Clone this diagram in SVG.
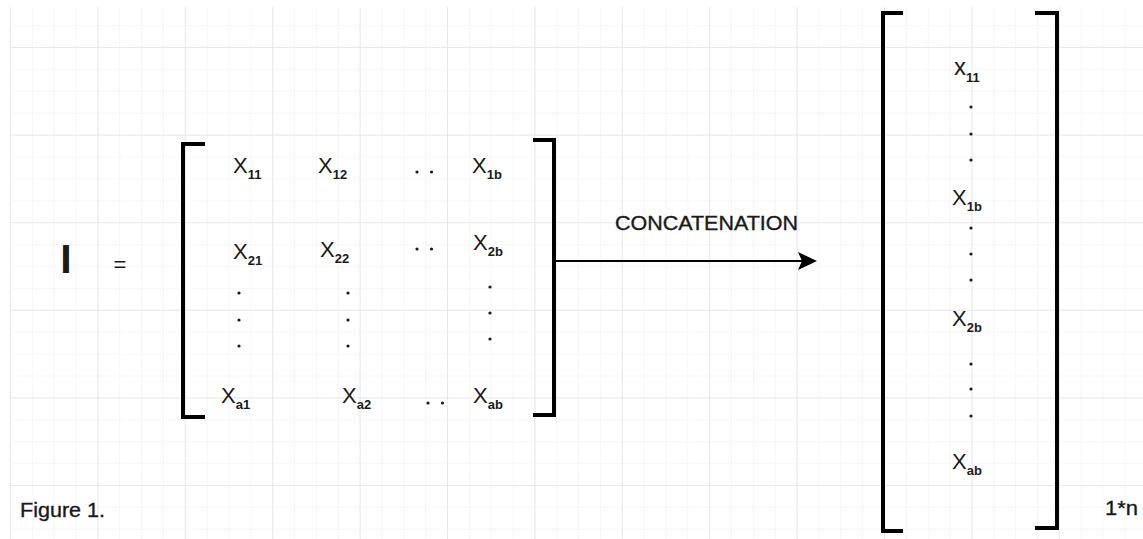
<svg xmlns="http://www.w3.org/2000/svg" width="1143" height="539" viewBox="0 0 1143 539">
  <defs>
    <style>
      .t { font-family: "Liberation Sans", Arial, sans-serif; fill: #1a1a1a; }
      .heavy { stroke: #1a1a1a; stroke-width: 0.35; }
      .el { font-size: 22px; }
      .sub { font-size: 13px; font-weight: bold; }
      .br { fill: none; stroke: #000; stroke-width: 4; }
      .dot { fill: #1a1a1a; }
    </style>
    <pattern id="minor" x="10" y="47" width="21.85" height="21.9" patternUnits="userSpaceOnUse">
      <path d="M0,0 H21.85 M0,0 V21.9" fill="none" stroke="#f0f0f0" stroke-width="1.2"/>
    </pattern>
    <pattern id="major" x="10" y="47" width="87.4" height="87.6" patternUnits="userSpaceOnUse">
      <path d="M0,0 H87.4 M0,0 V87.6" fill="none" stroke="#e3e3e3" stroke-width="1.4"/>
    </pattern>
  </defs>

  <!-- background and grid -->
  <rect width="1143" height="539" fill="#fff"/>
  <rect x="10" y="7" width="1133" height="532" fill="url(#minor)"/>
  <rect x="10" y="7" width="1133" height="532" fill="url(#major)"/>

  <!-- I = -->
  <g id="lhs">
    <text class="t" x="66" y="273" font-size="41" font-weight="bold" text-anchor="middle">I</text>
    <text class="t" x="120" y="272" font-size="22" text-anchor="middle">=</text>
  </g>

  <!-- a x b matrix -->
  <g id="matrix">
    <path class="br" d="M205,144 H183 V417 H205"/>
    <path class="br" d="M533,140 H554 V415 H533"/>

    <text class="t el" x="233" y="173">X<tspan class="sub" dy="6">11</tspan></text>
    <text class="t el" x="318" y="173">X<tspan class="sub" dy="6">12</tspan></text>
    <circle class="dot" cx="417" cy="172" r="1.6"/>
    <circle class="dot" cx="431.5" cy="172" r="1.6"/>
    <text class="t el" x="472" y="173">X<tspan class="sub" dy="6">1b</tspan></text>

    <text class="t el" x="233" y="259">X<tspan class="sub" dy="6">21</tspan></text>
    <text class="t el" x="320" y="257">X<tspan class="sub" dy="6">22</tspan></text>
    <circle class="dot" cx="417" cy="249" r="1.6"/>
    <circle class="dot" cx="431.5" cy="249" r="1.6"/>
    <text class="t el" x="473" y="250">X<tspan class="sub" dy="6">2b</tspan></text>

    <circle class="dot" cx="239" cy="293" r="1.6"/>
    <circle class="dot" cx="239" cy="320" r="1.6"/>
    <circle class="dot" cx="239" cy="346" r="1.6"/>
    <circle class="dot" cx="348" cy="293" r="1.6"/>
    <circle class="dot" cx="348" cy="320" r="1.6"/>
    <circle class="dot" cx="348" cy="346" r="1.6"/>
    <circle class="dot" cx="490" cy="287" r="1.6"/>
    <circle class="dot" cx="490" cy="313" r="1.6"/>
    <circle class="dot" cx="490" cy="339" r="1.6"/>

    <text class="t el" x="221" y="403">X<tspan class="sub" dy="6">a1</tspan></text>
    <text class="t el" x="342" y="403">X<tspan class="sub" dy="6">a2</tspan></text>
    <circle class="dot" cx="428" cy="403" r="1.6"/>
    <circle class="dot" cx="442.5" cy="403" r="1.6"/>
    <text class="t el" x="473" y="403">X<tspan class="sub" dy="6">ab</tspan></text>
  </g>

  <!-- concatenation arrow -->
  <g id="connectors">
    <line x1="556" y1="261" x2="802" y2="261" stroke="#000" stroke-width="2"/>
    <path d="M798,252 L817,261 L798,270 L802,261 Z" fill="#000"/>
    <text class="t heavy" x="615" y="230" font-size="20" textLength="183" lengthAdjust="spacingAndGlyphs">CONCATENATION</text>
  </g>

  <!-- 1 x n vector -->
  <g id="vector">
    <path class="br" d="M903,13 H883 V531 H903"/>
    <path class="br" d="M1035,13 H1057 V528 H1035"/>

    <text class="t" x="954" y="75" font-size="24">x<tspan class="sub" dy="7">11</tspan></text>
    <circle class="dot" cx="971" cy="107" r="1.6"/>
    <circle class="dot" cx="971" cy="134" r="1.6"/>
    <circle class="dot" cx="971" cy="160" r="1.6"/>

    <text class="t el" x="952" y="205">X<tspan class="sub" dy="6">1b</tspan></text>
    <circle class="dot" cx="971" cy="228" r="1.6"/>
    <circle class="dot" cx="971" cy="254" r="1.6"/>
    <circle class="dot" cx="971" cy="280" r="1.6"/>

    <text class="t el" x="952" y="326">X<tspan class="sub" dy="6">2b</tspan></text>
    <circle class="dot" cx="971" cy="364" r="1.6"/>
    <circle class="dot" cx="971" cy="389" r="1.6"/>
    <circle class="dot" cx="971" cy="416" r="1.6"/>

    <text class="t el" x="952" y="469">X<tspan class="sub" dy="6">ab</tspan></text>
  </g>

  <text class="t heavy" x="1105" y="515" font-size="20" textLength="33" lengthAdjust="spacingAndGlyphs">1*n</text>
  <text class="t heavy" x="20" y="517" font-size="20" textLength="85" lengthAdjust="spacingAndGlyphs">Figure 1.</text>
</svg>
